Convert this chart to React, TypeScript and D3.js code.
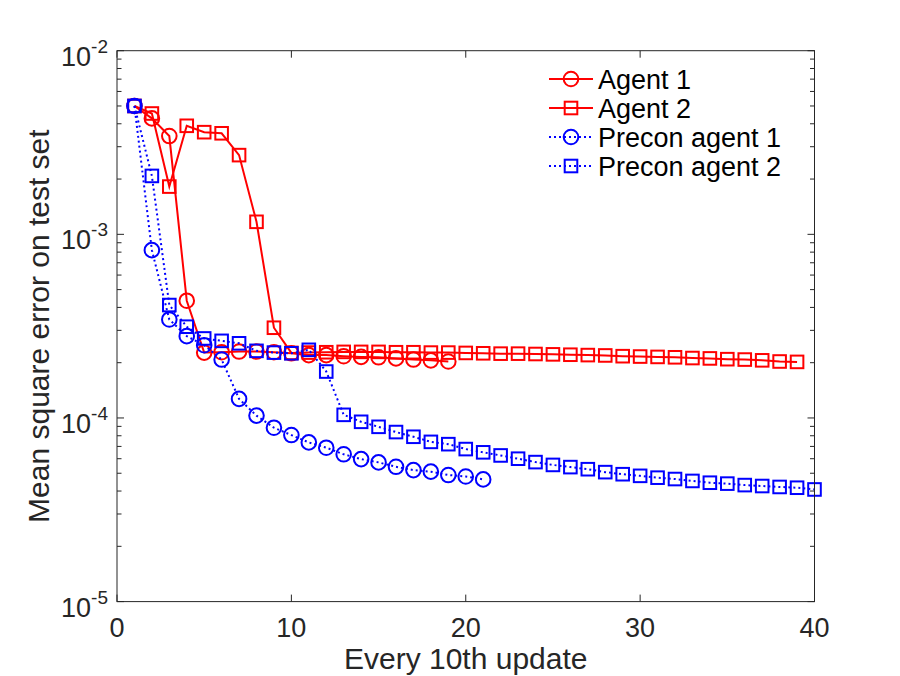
import * as d3 from "d3";

// x = update index (every 10th update), 1-based
const agent1 = [
  5.0e-3, 4.28e-3, 3.43e-3, 4.35e-4, 2.27e-4, 2.28e-4, 2.3e-4, 2.3e-4, 2.28e-4, 2.25e-4,
  2.2e-4, 2.2e-4, 2.17e-4, 2.15e-4, 2.14e-4, 2.11e-4, 2.08e-4, 2.06e-4, 2.03e-4,
];
const agent2 = [
  5.0e-3, 4.55e-3, 1.82e-3, 3.9e-3, 3.6e-3, 3.55e-3, 2.7e-3, 1.17e-3, 3.1e-4, 2.26e-4,
  2.27e-4, 2.28e-4, 2.29e-4, 2.29e-4, 2.29e-4, 2.28e-4, 2.28e-4, 2.27e-4, 2.27e-4, 2.26e-4,
  2.25e-4, 2.24e-4, 2.24e-4, 2.23e-4, 2.22e-4, 2.21e-4, 2.2e-4, 2.19e-4, 2.17e-4, 2.16e-4,
  2.15e-4, 2.14e-4, 2.12e-4, 2.11e-4, 2.09e-4, 2.08e-4, 2.06e-4, 2.03e-4, 2.02e-4,
];
const precon1 = [
  5.0e-3, 8.2e-4, 3.44e-4, 2.79e-4, 2.49e-4, 2.08e-4, 1.27e-4, 1.03e-4, 8.85e-5, 8.07e-5,
  7.36e-5, 6.89e-5, 6.34e-5, 5.97e-5, 5.73e-5, 5.42e-5, 5.2e-5, 5.1e-5, 4.89e-5, 4.8e-5,
  4.63e-5,
];
const precon2 = [
  5.0e-3, 2.08e-3, 4.12e-4, 3.14e-4, 2.71e-4, 2.63e-4, 2.55e-4, 2.32e-4, 2.27e-4, 2.25e-4,
  2.35e-4, 1.79e-4, 1.04e-4, 9.53e-5, 8.95e-5, 8.38e-5, 7.9e-5, 7.41e-5, 7.2e-5, 6.77e-5,
  6.5e-5, 6.25e-5, 6.0e-5, 5.75e-5, 5.55e-5, 5.4e-5, 5.26e-5, 5.07e-5, 4.94e-5, 4.84e-5,
  4.73e-5, 4.65e-5, 4.54e-5, 4.44e-5, 4.39e-5, 4.31e-5, 4.26e-5, 4.21e-5, 4.17e-5, 4.08e-5,
];

const xTicks = [0, 10, 20, 30, 40];
const yExponents = [-5, -4, -3, -2];
const seriesNames = ["Agent 1", "Agent 2", "Precon agent 1", "Precon agent 2"];

const series = [
  { name: seriesNames[0], values: agent1, color: "#ff0000", marker: "circle", dotted: false },
  { name: seriesNames[1], values: agent2, color: "#ff0000", marker: "square", dotted: false },
  { name: seriesNames[2], values: precon1, color: "#0000ff", marker: "circle", dotted: true },
  { name: seriesNames[3], values: precon2, color: "#0000ff", marker: "square", dotted: true },
];

const W = 900;
const H = 676;
const left = 117;
const right = 814.5;
const top = 50.7;
const bottom = 601.6;
const font = "'Liberation Sans', Arial, Helvetica, sans-serif";
const axisColor = "#262626";

const Marker = ({ type, cx, cy, color }: { type: string; cx: number; cy: number; color: string }) =>
  type === "circle" ? (
    <circle cx={cx} cy={cy} r={7.3} fill="none" stroke={color} strokeWidth={2} />
  ) : (
    <rect x={cx - 6.3} y={cy - 6.3} width={12.6} height={12.6} fill="none" stroke={color} strokeWidth={2} />
  );

const App = () => {
  const x = d3.scaleLinear().domain([0, 40]).range([left, right]);
  const y = d3.scaleLog().domain([1e-5, 1e-2]).range([bottom, top]);

  const line = d3
    .line<number>()
    .x((_, i) => x(i + 1))
    .y((d) => y(d));

  const minor: number[] = [];
  yExponents.slice(0, 3).forEach((e) => {
    for (let m = 2; m <= 9; m++) minor.push(m * Math.pow(10, e));
  });

  return (
    <svg
      width={W}
      height={H}
      style={{ position: "absolute", left: 0, top: 0, background: "#fff" }}
      fontFamily={font}
    >
      <rect width={W} height={H} fill="#fff" />

      {/* ticks */}
      <g stroke={axisColor} strokeWidth={1}>
        {xTicks.map((t) => (
          <g key={t}>
            <line x1={x(t)} x2={x(t)} y1={bottom} y2={bottom - 7} />
            <line x1={x(t)} x2={x(t)} y1={top} y2={top + 7} />
          </g>
        ))}
        {yExponents.map((e) => (
          <g key={e}>
            <line x1={left} x2={left + 7} y1={y(Math.pow(10, e))} y2={y(Math.pow(10, e))} />
            <line x1={right} x2={right - 7} y1={y(Math.pow(10, e))} y2={y(Math.pow(10, e))} />
          </g>
        ))}
        {minor.map((v, i) => (
          <g key={i}>
            <line x1={left} x2={left + 4.5} y1={y(v)} y2={y(v)} />
            <line x1={right} x2={right - 4.5} y1={y(v)} y2={y(v)} />
          </g>
        ))}
      </g>

      {/* series */}
      {series.map((s) => (
        <g key={s.name}>
          <path
            d={line(s.values) || ""}
            fill="none"
            stroke={s.color}
            strokeWidth={2}
            strokeDasharray={s.dotted ? "2 3" : undefined}
          />
          {s.values.map((v, i) => (
            <Marker key={i} type={s.marker} cx={x(i + 1)} cy={y(v)} color={s.color} />
          ))}
        </g>
      ))}

      {/* box */}
      <rect
        x={left}
        y={top}
        width={right - left}
        height={bottom - top}
        fill="none"
        stroke={axisColor}
        strokeWidth={1}
      />

      {/* x tick labels */}
      {xTicks.map((t) => (
        <text key={t} x={x(t)} y={637} textAnchor="middle" fontSize={27} fill={axisColor}>
          {t}
        </text>
      ))}

      {/* y tick labels */}
      {yExponents.map((e) => (
        <text key={e} x={108} y={y(Math.pow(10, e)) + 15} textAnchor="end" fontSize={27} fill={axisColor}>
          10
          <tspan fontSize={19} dy={-13}>
            {"-" + Math.abs(e)}
          </tspan>
        </text>
      ))}

      <text x={(left + right) / 2} y={669} textAnchor="middle" fontSize={30} fill={axisColor}>
        Every 10th update
      </text>
      <text
        transform={`translate(49, ${(top + bottom) / 2}) rotate(-90)`}
        textAnchor="middle"
        fontSize={30}
        fill={axisColor}
      >
        Mean square error on test set
      </text>

      {/* legend */}
      {series.map((s, i) => {
        const ly = 79 + i * 29;
        return (
          <g key={s.name}>
            <line
              x1={549}
              x2={593}
              y1={ly}
              y2={ly}
              stroke={s.color}
              strokeWidth={2}
              strokeDasharray={s.dotted ? "2 3" : undefined}
            />
            <Marker type={s.marker} cx={571} cy={ly} color={s.color} />
            <text x={598} y={ly} dy="0.36em" fontSize={27} fill="#000">
              {s.name}
            </text>
          </g>
        );
      })}
    </svg>
  );
};

export default App;
